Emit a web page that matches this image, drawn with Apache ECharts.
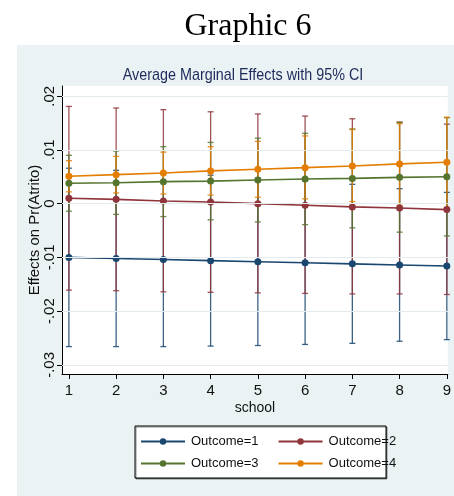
<!DOCTYPE html>
<html>
<head>
<meta charset="utf-8">
<script src="https://cdn.jsdelivr.net/npm/echarts@6/dist/echarts.min.js"></script>
<style>html,body{margin:0;padding:0;background:#fff;}#c{width:454px;height:496px;}</style>
</head>
<body>
<div id="c"></div>
<script>
const schools = [1, 2, 3, 4, 5, 6, 7, 8, 9];
const xTicks = [1, 2, 3, 4, 5, 6, 7, 8, 9];
const yTicks = [-0.03, -0.02, -0.01, 0, 0.01, 0.02];
const yTickLabels = ['-.03', '-.02', '-.01', '0', '.01', '.02'];
const seriesNames = ['Outcome=1', 'Outcome=2', 'Outcome=3', 'Outcome=4'];

const est1 = [-0.0100, -0.0102, -0.0104, -0.0106, -0.0108, -0.0110, -0.0112, -0.0114, -0.0116];
const lo1  = [-0.0266, -0.0266, -0.0266, -0.0265, -0.0264, -0.0262, -0.0260, -0.0256, -0.0253];
const hi1  = [0.0066, 0.0062, 0.0058, 0.0053, 0.0048, 0.0042, 0.0036, 0.0028, 0.0021];

const est2 = [0.0010, 0.0008, 0.0005, 0.0003, 0.0000, -0.0003, -0.0006, -0.0008, -0.0011];
const lo2  = [-0.0161, -0.0162, -0.0164, -0.0165, -0.0166, -0.0167, -0.0168, -0.0168, -0.0169];
const hi2  = [0.0181, 0.0178, 0.0175, 0.0171, 0.0167, 0.0163, 0.0158, 0.0152, 0.0148];

const est3 = [0.0038, 0.0039, 0.0041, 0.0042, 0.0044, 0.0046, 0.0047, 0.0049, 0.0050];
const lo3  = [-0.0014, -0.0020, -0.0024, -0.0030, -0.0034, -0.0039, -0.0045, -0.0053, -0.0060];
const hi3  = [0.0090, 0.0098, 0.0106, 0.0114, 0.0122, 0.0131, 0.0139, 0.0151, 0.0160];

const est4 = [0.0051, 0.0054, 0.0057, 0.0061, 0.0064, 0.0067, 0.0070, 0.0074, 0.0077];
const lo4  = [0.0022, 0.0020, 0.0018, 0.0016, 0.0012, 0.0009, 0.0004, -0.0003, -0.0007];
const hi4  = [0.0080, 0.0088, 0.0096, 0.0106, 0.0116, 0.0126, 0.0138, 0.0149, 0.0161];

const colors = ['#1a476f', '#90353b', '#55752f', '#e37e00'];
const ests = [est1, est2, est3, est4];
const los = [lo1, lo2, lo3, lo4];
const his = [hi1, hi2, hi3, hi4];

const SANS = "'Liberation Sans', Arial, sans-serif";

function ciRender(color) {
  return function (params, api) {
    const x = api.value(0), lo = api.value(1), hi = api.value(2);
    const a = api.coord([x, lo]), b = api.coord([x, hi]);
    const w = 3;
    const st = { stroke: color, lineWidth: 1.3, opacity: 0.85 };
    return {
      type: 'group',
      children: [
        { type: 'line', shape: { x1: a[0], y1: a[1], x2: b[0], y2: b[1] }, style: st },
        { type: 'line', shape: { x1: a[0] - w, y1: a[1], x2: a[0] + w, y2: a[1] }, style: st },
        { type: 'line', shape: { x1: b[0] - w, y1: b[1], x2: b[0] + w, y2: b[1] }, style: st }
      ]
    };
  };
}

const series = [];
series.push({
  type: 'line', name: 'grid', data: [], z: 1, silent: true,
  markLine: {
    silent: true, symbol: ['none', 'none'], animation: false,
    label: { show: false },
    lineStyle: { color: '#e3ebee', width: 1, type: 'solid' },
    data: yTicks.map(v => ({ yAxis: v }))
  }
});
for (let k = 0; k < 4; k++) {
  series.push({
    type: 'custom', name: 'ci' + (k + 1), z: 2,
    renderItem: ciRender(colors[k]),
    encode: { x: 0, y: [1, 2] },
    data: schools.map((s, i) => [s, los[k][i], his[k][i]])
  });
}
for (let k = 0; k < 4; k++) {
  series.push({
    type: 'line', name: seriesNames[k], z: 3,
    symbol: 'circle', symbolSize: 7,
    itemStyle: { color: colors[k] },
    lineStyle: { color: colors[k], width: 1.6 },
    data: schools.map((s, i) => [s, ests[k][i]])
  });
}

const legendCommon = {
  orient: 'horizontal', padding: 0, itemGap: 19,
  itemWidth: 44, itemHeight: 8,
  textStyle: { fontFamily: SANS, fontSize: 13, color: '#111', width: 60, padding: [0, 0, 0, 1] },
  selectedMode: false
};

const chart = echarts.init(document.getElementById('c'), null, { renderer: 'canvas' });
chart.setOption({
  animation: false,
  backgroundColor: '#ffffff',
  title: [
    { text: 'Graphic 6', left: 243, textAlign: 'center', top: 6,
      textStyle: { fontFamily: "'Liberation Serif', serif", fontSize: 32, fontWeight: 'normal', color: '#000' } }
  ],
  graphic: [
    { type: 'rect', z: -10, shape: { x: 17, y: 45, width: 460, height: 460 }, style: { fill: '#eaf2f3' } },
    { type: 'text', z: 5, x: 243, y: 75, scaleX: 0.845,
      style: { text: 'Average Marginal Effects with 95% CI', align: 'center', verticalAlign: 'middle',
               font: "17px 'Liberation Sans', Arial, sans-serif", fill: '#1c2b5a' } },
    { type: 'rect', z: 1, shape: { x: 135, y: 426, width: 251, height: 52 },
      style: { fill: '#ffffff', stroke: '#000', lineWidth: 1, shadowColor: 'rgba(0,0,0,0.45)', shadowOffsetX: 1, shadowOffsetY: 1 } }
  ],
  grid: { left: 62, top: 86, right: 0, bottom: 122, show: true, backgroundColor: '#ffffff', borderWidth: 0 },
  xAxis: {
    type: 'value', min: 1 - 7 / 48, max: 1 + 385 / 48,
    name: 'school', nameLocation: 'middle', nameGap: 27, nameMoveOverlap: false,
    nameTextStyle: { fontFamily: SANS, fontSize: 14, color: '#111' },
    axisLine: { show: true, onZero: false, lineStyle: { color: '#000', width: 1 } },
    axisTick: { show: true, length: 5, customValues: xTicks, lineStyle: { color: '#000' } },
    axisLabel: { customValues: xTicks, margin: 9, fontFamily: SANS, fontSize: 15, color: '#111' },
    splitLine: { show: false }
  },
  yAxis: {
    type: 'value', min: -0.0317, max: 0.0219,
    name: 'Effects on Pr(Atrito)', nameLocation: 'middle', nameGap: 20, nameRotate: 90, nameMoveOverlap: false,
    nameTextStyle: { fontFamily: SANS, fontSize: 15, color: '#111' },
    axisLine: { show: true, onZero: false, lineStyle: { color: '#000', width: 1 } },
    axisTick: { show: true, length: 5, customValues: yTicks, lineStyle: { color: '#000' } },
    axisLabel: {
      customValues: yTicks, rotate: 90, margin: 5, fontFamily: SANS, fontSize: 15, color: '#111',
      formatter: function (v) {
        let best = 0, d = Infinity;
        yTicks.forEach((t, i) => { if (Math.abs(t - v) < d) { d = Math.abs(t - v); best = i; } });
        return yTickLabels[best];
      }
    },
    splitLine: { show: false }
  },
  legend: [
    Object.assign({}, legendCommon, { left: 140, top: 435, data: [seriesNames[0], seriesNames[1]] }),
    Object.assign({}, legendCommon, { left: 140, top: 457, data: [seriesNames[2], seriesNames[3]] })
  ],
  series: series
});
</script>
</body>
</html>
